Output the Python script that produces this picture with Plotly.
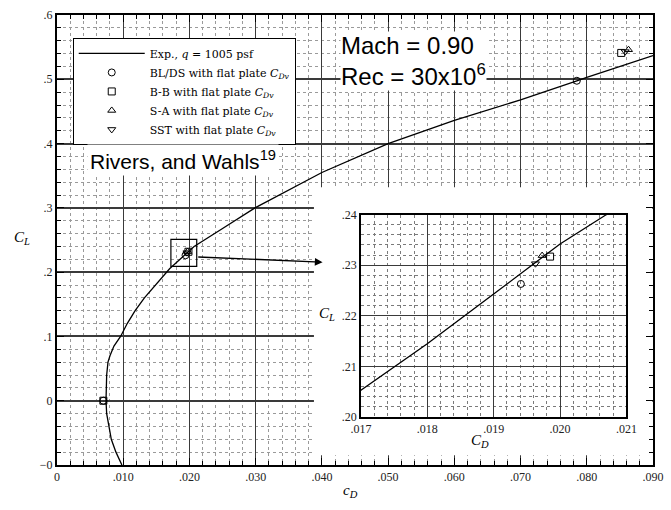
import plotly.graph_objects as go

# Experimental drag polar (Exp., q = 1005 psf): drag coefficient vs lift coefficient
exp_cd = [0.0098, 0.0089, 0.0082, 0.0078, 0.0075, 0.0074, 0.0074, 0.0075, 0.0077,
          0.0080, 0.0086, 0.0096, 0.0106, 0.0118, 0.0132, 0.0149, 0.0166,
          0.0170, 0.0180, 0.0190, 0.0200, 0.0207, 0.0250, 0.0299, 0.0400,
          0.0500, 0.0600, 0.0700, 0.0785, 0.0800, 0.0900]
exp_cl = [-0.100, -0.080, -0.060, -0.040, -0.020, 0.000, 0.020, 0.040, 0.060,
          0.070, 0.085, 0.100, 0.120, 0.140, 0.160, 0.180, 0.200,
          0.2053, 0.2145, 0.2243, 0.2342, 0.2400, 0.2680, 0.3000, 0.3550,
          0.4000, 0.4360, 0.4680, 0.4975, 0.5030, 0.5370]

# Computed points with flat plate CDv, one list per turbulence model
bl_cd = [0.0070, 0.01941, 0.0785]
bl_cl = [0.0000, 0.2263, 0.4977]
bb_cd = [0.0070, 0.01985, 0.0852]
bb_cl = [0.0000, 0.2317, 0.5410]
sa_cd = [0.01973, 0.0863]
sa_cl = [0.2319, 0.5460]
sst_cd = [0.01963, 0.0858]
sst_cl = [0.2303, 0.5430]

# Axis ticks
main_x_ticks = [0.00, 0.01, 0.02, 0.03, 0.04, 0.05, 0.06, 0.07, 0.08, 0.09]
main_x_labels = ["0", ".010", ".020", ".030", ".040", ".050", ".060", ".070", ".080", ".090"]
main_y_ticks = [-0.1, 0.0, 0.1, 0.2, 0.3, 0.4, 0.5, 0.6]
main_y_labels = ["\u22120", "0", ".1", ".2", ".3", ".4", ".5", ".6"]
inset_x_ticks = [0.017, 0.018, 0.019, 0.020, 0.021]
inset_x_labels = [".017", ".018", ".019", ".020", ".021"]
inset_y_ticks = [0.20, 0.21, 0.22, 0.23, 0.24]
inset_y_labels = [".20", ".21", ".22", ".23", ".24"]

SERIF = "Liberation Serif"
WIDE_SERIF = "DejaVu Serif"
SANS = "Liberation Sans"

models = [
    ("BL/DS with flat plate <i>C</i><sub><i>Dv</i></sub>", bl_cd, bl_cl, "circle-open"),
    ("B-B with flat plate <i>C</i><sub><i>Dv</i></sub>", bb_cd, bb_cl, "square-open"),
    ("S-A with flat plate <i>C</i><sub><i>Dv</i></sub>", sa_cd, sa_cl, "triangle-up-open"),
    ("SST with flat plate <i>C</i><sub><i>Dv</i></sub>", sst_cd, sst_cl, "triangle-down-open"),
]

fig = go.Figure()

for xa, ya, legend in (("x", "y", True), ("x2", "y2", False)):
    fig.add_trace(go.Scatter(
        x=exp_cd, y=exp_cl, mode="lines", xaxis=xa, yaxis=ya,
        line=dict(color="black", width=1.3),
        name="Exp., <i>q</i> = 1005 psf",
        showlegend=legend,
    ))
    for name, cd, cl, sym in models:
        fig.add_trace(go.Scatter(
            x=cd, y=cl, mode="markers", xaxis=xa, yaxis=ya, name=name,
            marker=dict(symbol=sym, size=7, color="black", line=dict(width=1, color="black")),
            showlegend=legend,
        ))

grid_major = "#3a3a3a"
grid_minor = "#9a9a9a"

fig.update_layout(
    width=671, height=510,
    margin=dict(l=57, r=8, t=14, b=45),
    paper_bgcolor="white", plot_bgcolor="white",
    font=dict(family=SERIF, size=12, color="black"),
    xaxis=dict(
        range=[0, 0.09], tickmode="array", tickvals=main_x_ticks, ticktext=main_x_labels,
        ticks="inside", ticklen=7, tickcolor="black", tickwidth=1,
        showline=True, linecolor="black", linewidth=2, mirror="ticks",
        showgrid=True, gridcolor=grid_major, gridwidth=1.3, zeroline=False,
        tickfont=dict(family=SERIF, size=12, color="#222"),
        minor=dict(tickmode="linear", tick0=0, dtick=0.002, ticks="inside", ticklen=4,
                   tickcolor="black", showgrid=True, gridcolor=grid_minor, griddash="dot",
                   gridwidth=1),
    ),
    yaxis=dict(
        range=[-0.1, 0.6], tickmode="array", tickvals=main_y_ticks, ticktext=main_y_labels,
        ticks="inside", ticklen=7, tickcolor="black", tickwidth=1,
        showline=True, linecolor="black", linewidth=2, mirror="ticks",
        showgrid=True, gridcolor=grid_major, gridwidth=1.6, zeroline=False,
        tickfont=dict(family=SERIF, size=12, color="#222"),
        minor=dict(tickmode="linear", tick0=0, dtick=0.02, ticks="inside", ticklen=4,
                   tickcolor="black", showgrid=True, gridcolor=grid_minor, griddash="dot",
                   gridwidth=1),
    ),
    xaxis2=dict(
        domain=[0.5099, 0.9554], anchor="y2", range=[0.017, 0.021],
        tickmode="array", tickvals=inset_x_ticks, ticktext=inset_x_labels,
        ticks="", showline=True, linecolor="black", linewidth=1.5, mirror=True,
        showgrid=True, gridcolor=grid_major, gridwidth=1.3, zeroline=False,
        tickfont=dict(family=SERIF, size=12, color="#222"),
        minor=dict(tickmode="linear", tick0=0.017, dtick=0.0002, showgrid=True,
                   gridcolor="#7a7a7a", griddash="dot", gridwidth=1),
    ),
    yaxis2=dict(
        domain=[0.1064, 0.5565], anchor="x2", range=[0.20, 0.24],
        tickmode="array", tickvals=inset_y_ticks, ticktext=inset_y_labels,
        ticks="", showline=True, linecolor="black", linewidth=1.5, mirror=True,
        showgrid=True, gridcolor=grid_major, gridwidth=1.3, zeroline=False,
        tickfont=dict(family=SERIF, size=12, color="#222"),
        minor=dict(tickmode="linear", tick0=0.20, dtick=0.002, showgrid=True,
                   gridcolor="#7a7a7a", griddash="dot", gridwidth=1),
    ),
    legend=dict(
        x=0.0264, y=0.949, xanchor="left", yanchor="top",
        bgcolor="white", bordercolor="black", borderwidth=1,
        font=dict(family=WIDE_SERIF, size=11, color="black"),
        itemwidth=66, tracegroupgap=0,
    ),
    showlegend=True,
)

# White panel behind the enlarged view
fig.add_shape(type="rect", xref="x", yref="y", x0=0.0388, x1=0.0899, y0=-0.085, y1=0.332,
              fillcolor="white", line=dict(width=0), layer="between")
# Zoom box around the region enlarged in the inset
fig.add_shape(type="rect", xref="x", yref="y", x0=0.0172, x1=0.0211, y0=0.209, y1=0.251,
              line=dict(color="black", width=1.2), fillcolor="rgba(0,0,0,0)")

annotations = [
    # arrow from zoom box to the inset
    dict(x=0.0401, y=0.2155, xref="x", yref="y", ax=0.0211, ay=0.2237, axref="x", ayref="y",
         text="", showarrow=True, arrowhead=2, arrowsize=1.1, arrowwidth=1.4, arrowcolor="black"),
    dict(x=0.475, y=0.965, xref="paper", yref="paper", xanchor="left", yanchor="top",
         text="Mach = 0.90<br>Rec = 30x10<sup>6</sup>", showarrow=False, align="left",
         font=dict(family=SANS, size=24, color="black"), bgcolor="white", borderpad=0),
    dict(x=0.0495, y=0.678, xref="paper", yref="paper", xanchor="left", yanchor="middle",
         text="Rivers, and Wahls<sup>19</sup>", showarrow=False,
         font=dict(family=SANS, size=21, color="black"), bgcolor="white", borderpad=2),
    dict(x=-0.075, y=0.5055, xref="paper", yref="paper", showarrow=False,
         text="<i>C</i><sub><i>L</i></sub>", font=dict(family=SERIF, size=15, color="black")),
    dict(x=0.4917, y=-0.083, xref="paper", yref="paper", showarrow=False,
         text="<i>c</i><sub><i>D</i></sub>", font=dict(family=SERIF, size=15, color="black")),
    dict(x=0.4538, y=0.335, xref="paper", yref="paper", showarrow=False,
         text="<i>C</i><sub><i>L</i></sub>", font=dict(family=SERIF, size=15, color="black")),
    dict(x=0.7277, y=0.030, xref="paper", yref="paper", showarrow=False,
         text="<i>C</i><sub><i>D</i></sub>", font=dict(family=SERIF, size=15, color="black")),
]
fig.update_layout(annotations=annotations)

fig.write_html("out.html")
